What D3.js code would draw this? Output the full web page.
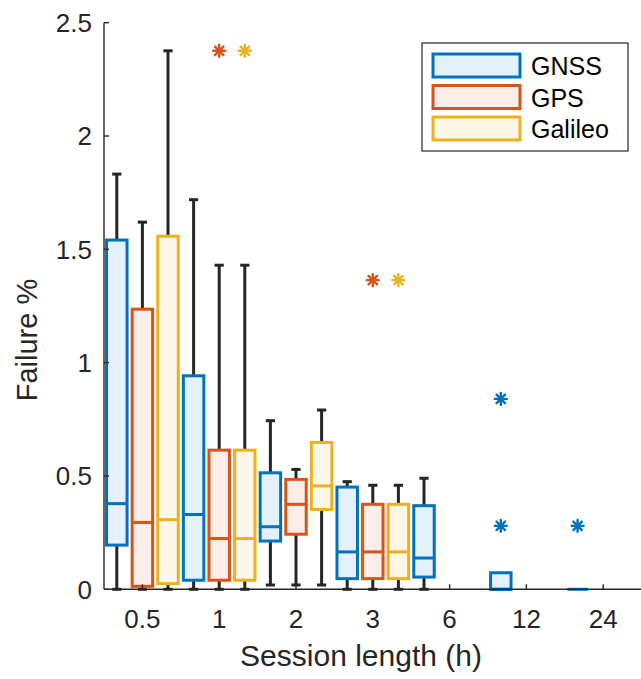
<!DOCTYPE html>
<html><head><meta charset="utf-8">
<script src="https://cdn.jsdelivr.net/npm/d3@7"></script>
<style>
html,body{margin:0;padding:0;background:#fff;}
svg{display:block;font-family:"Liberation Sans",Arial,Helvetica,sans-serif;}
</style></head>
<body>
<svg id="chart" width="641" height="679"></svg>
<script>
// ---- data ----
const sessionLengths = ["0.5", "1", "2", "3", "6", "12", "24"];
const seriesNames = ["GNSS", "GPS", "Galileo"];
const seriesColors = ["#0072BD", "#D95319", "#EDB120"];
const yTicks = [0, 0.5, 1, 1.5, 2, 2.5];

// per series, per session length (null = no box)
const gnssLow  = [0,     0,     0.019, 0,     0,     0,     0];
const gnssQ1   = [0.195, 0.04,  0.213, 0.047, 0.054, 0,     0];
const gnssMed  = [0.378, 0.33,  0.276, 0.165, 0.138, 0,     0];
const gnssQ3   = [1.541, 0.942, 0.514, 0.451, 0.369, 0.073, 0];
const gnssHigh = [1.832, 1.719, 0.744, 0.475, 0.49,  0.073, 0];
const gnssOut  = [[], [], [], [], [], [0.84, 0.28], [0.28]];

const gpsLow  = [0,     0,     0.019, 0,     null, null, null];
const gpsQ1   = [0.013, 0.04,  0.243, 0.047, null, null, null];
const gpsMed  = [0.295, 0.224, 0.375, 0.165, null, null, null];
const gpsQ3   = [1.236, 0.614, 0.485, 0.375, null, null, null];
const gpsHigh = [1.62,  1.43,  0.529, 0.459, null, null, null];
const gpsOut  = [[], [2.376], [], [1.364], [], [], []];

const galLow  = [0,     0,     0.019, 0,     null, null, null];
const galQ1   = [0.025, 0.04,  0.352, 0.047, null, null, null];
const galMed  = [0.307, 0.224, 0.456, 0.165, null, null, null];
const galQ3   = [1.558, 0.614, 0.648, 0.375, null, null, null];
const galHigh = [2.376, 1.43,  0.791, 0.459, null, null, null];
const galOut  = [[], [2.376], [], [1.364], [], [], []];

const seriesData = [
  {low: gnssLow, q1: gnssQ1, med: gnssMed, q3: gnssQ3, high: gnssHigh, out: gnssOut},
  {low: gpsLow,  q1: gpsQ1,  med: gpsMed,  q3: gpsQ3,  high: gpsHigh,  out: gpsOut},
  {low: galLow,  q1: galQ1,  med: galMed,  q3: galQ3,  high: galHigh,  out: galOut}
];

// ---- layout ----
const svg = d3.select("#chart");
const pLeft = 104, pRight = 641.6, pTop = 22.7, pBottom = 589.3;
const nS = seriesNames.length;
// box index positions: group g, series s -> g*3 + s
const x = d3.scaleLinear().domain([-0.5, sessionLengths.length * nS - 0.5]).range([pLeft, pRight]);
const y = d3.scaleLinear().domain([0, 2.5]).range([pBottom, pTop]);
const axisColor = "#262626";
const boxW = 0.8; // in index units
const capW = 0.36;

// boxes
const boxes = [];
seriesData.forEach((sd, s) => {
  sessionLengths.forEach((L, g) => {
    if (sd.q1[g] === null) return;
    boxes.push({s, g, pos: g * nS + s, low: sd.low[g], q1: sd.q1[g], med: sd.med[g], q3: sd.q3[g], high: sd.high[g], out: sd.out[g]});
  });
});

const gBox = svg.append("g");
boxes.forEach(b => {
  const cx = x(b.pos);
  const col = seriesColors[b.s];
  const hw = (x(boxW) - x(0)) / 2;
  const cw = (x(capW) - x(0)) / 2;
  const gg = gBox.append("g");
  if (b.high > b.q3) {
    gg.append("line").attr("x1", cx).attr("x2", cx).attr("y1", y(b.q3)).attr("y2", y(b.high))
      .attr("stroke", axisColor).attr("stroke-width", 3);
  }
  if (b.low < b.q1) {
    gg.append("line").attr("x1", cx).attr("x2", cx).attr("y1", y(b.q1)).attr("y2", y(b.low))
      .attr("stroke", axisColor).attr("stroke-width", 3);
  }
  if (b.high > b.q3 || b.low < b.q1) {
    [b.high, b.low].forEach(v => {
      gg.append("line").attr("x1", cx - cw).attr("x2", cx + cw).attr("y1", y(v)).attr("y2", y(v))
        .attr("stroke", axisColor).attr("stroke-width", 3);
    });
  }
  gg.append("rect").attr("x", cx - hw).attr("width", 2 * hw)
    .attr("y", y(b.q3)).attr("height", Math.max(0, y(b.q1) - y(b.q3)))
    .attr("fill", col).attr("fill-opacity", 0.1)
    .attr("stroke", col).attr("stroke-width", 3);
  gg.append("line").attr("x1", cx - hw).attr("x2", cx + hw).attr("y1", y(b.med)).attr("y2", y(b.med))
    .attr("stroke", col).attr("stroke-width", 3);
});

function asterisk(sel, cx, cy, r, col) {
  const g = sel.append("g").attr("transform", `translate(${cx},${cy})`)
    .attr("stroke", col).attr("stroke-width", 2.4).attr("stroke-linecap", "round");
  for (let k = 0; k < 4; k++) {
    const a = k * Math.PI / 4;
    g.append("line").attr("x1", -r * Math.cos(a)).attr("y1", -r * Math.sin(a))
      .attr("x2", r * Math.cos(a)).attr("y2", r * Math.sin(a));
  }
}
boxes.forEach(b => {
  b.out.forEach(v => asterisk(gBox, x(b.pos), y(v), 6, seriesColors[b.s]));
});

// axes
const gAx = svg.append("g");
gAx.append("line").attr("x1", pLeft).attr("x2", pLeft).attr("y1", pTop).attr("y2", pBottom)
  .attr("stroke", axisColor).attr("stroke-width", 1.4);
gAx.append("line").attr("x1", pLeft).attr("x2", pRight).attr("y1", pBottom).attr("y2", pBottom)
  .attr("stroke", axisColor).attr("stroke-width", 1.4);

yTicks.forEach(t => {
  gAx.append("line").attr("x1", pLeft).attr("x2", pLeft + 5).attr("y1", y(t)).attr("y2", y(t))
    .attr("stroke", axisColor).attr("stroke-width", 1.4);
  gAx.append("text").attr("x", 92).attr("y", y(t)).attr("dy", "0.36em")
    .attr("text-anchor", "end").attr("font-size", 26).attr("fill", "#262626").text(String(t));
});
sessionLengths.forEach((L, g) => {
  const tx = x(g * nS + 1);
  gAx.append("line").attr("x1", tx).attr("x2", tx).attr("y1", pBottom).attr("y2", pBottom - 5)
    .attr("stroke", axisColor).attr("stroke-width", 1.4);
  gAx.append("text").attr("x", tx).attr("y", 628).attr("text-anchor", "middle")
    .attr("font-size", 26).attr("fill", "#262626").text(L);
});

// axis labels
svg.append("text").attr("x", 361).attr("y", 666).attr("text-anchor", "middle")
  .attr("font-size", 30).attr("fill", "#262626").text("Session length (h)");
svg.append("text").attr("transform", "translate(37,340) rotate(-90)").attr("text-anchor", "middle")
  .attr("font-size", 29).attr("fill", "#262626").text("Failure %");

// legend
const lg = svg.append("g");
lg.append("rect").attr("x", 422).attr("y", 43).attr("width", 206).attr("height", 108)
  .attr("fill", "#fff").attr("stroke", "#262626").attr("stroke-width", 1.2);
seriesNames.forEach((n, i) => {
  const yy = 54 + i * 31.5;
  lg.append("rect").attr("x", 433).attr("y", yy).attr("width", 87).attr("height", 23)
    .attr("fill", seriesColors[i]).attr("fill-opacity", 0.1)
    .attr("stroke", seriesColors[i]).attr("stroke-width", 3);
  lg.append("text").attr("x", 531).attr("y", yy + 21).attr("font-size", 25)
    .attr("fill", "#000").text(n);
});
</script>
</body></html>
